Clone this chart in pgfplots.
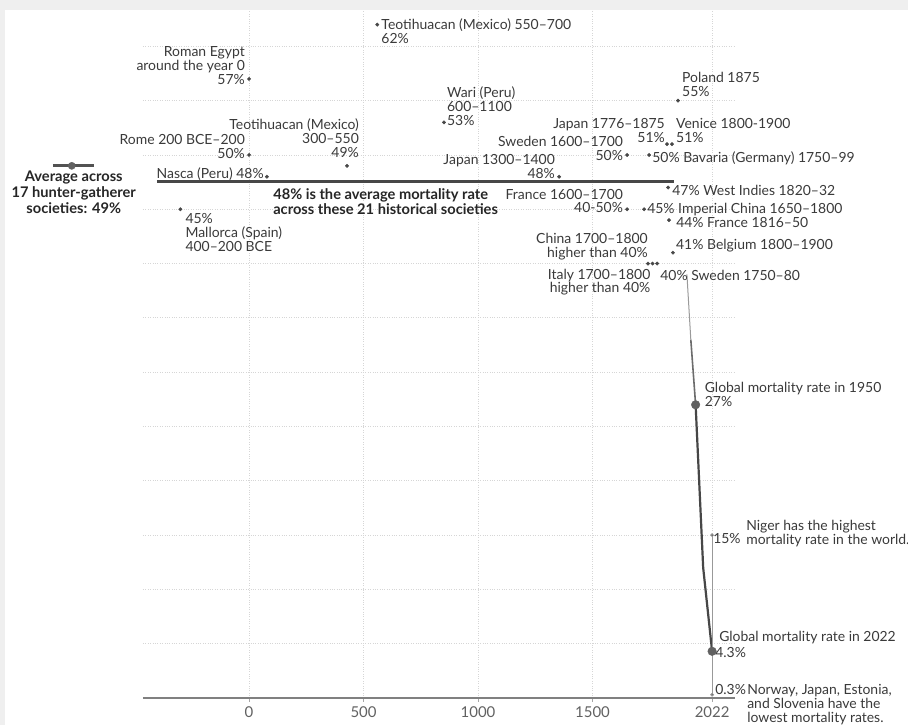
\documentclass[border=0pt]{standalone}
\usepackage{fontspec}
\setmainfont{Lato}
\usepackage{pgfplots}
\pgfplotsset{compat=1.18}
\definecolor{txt}{HTML}{3A3A3A}
\definecolor{dot}{HTML}{474747}
\definecolor{gridc}{HTML}{D6D6D6}
\definecolor{band}{HTML}{EFEFEF}
\tikzset{lab/.style={inner sep=0pt, font=\fontsize{14}{14}\selectfont, text=txt},
         blab/.style={inner sep=0pt, font=\fontsize{14.7}{16}\selectfont\bfseries, text=black!85}}
\begin{document}
\begin{tikzpicture}[x=1bp,y=1bp]
\fill[white] (-143,-27) rectangle (765,698);
\fill[band] (-143,688) rectangle (765,698);
\fill[band] (-143,-27) rectangle (-138,698);
\path[use as bounding box] (-143,-27) rectangle (765,698);
\begin{axis}[
  at={(0,0)}, anchor=south west, scale only axis,
  width=592bp, height=688bp,
  xmin=-463, xmax=2122, ymin=0, ymax=63.35,
  clip=false,
  axis x line*=bottom, axis y line*=left,
  y axis line style={draw=none},
  x axis line style={draw=black!50, line width=1.5bp},
  xtick={0,500,1000,1500,2022},
  xticklabels={0,500,1000,1500,2022},
  ytick={5,10,...,60},
  yticklabels={},
  ytick style={draw=none},
  xtick style={draw=black!35, line width=0.6bp},
  tick align=outside, major tick length=4bp,
  xmajorgrids, ymajorgrids,
  grid style={gridc, dotted, line width=0.9bp},
  xticklabel style={font=\fontsize{15}{16}\selectfont, text=black!62, yshift=-1bp},
  /pgf/number format/assume math mode=true,
]
% hunter-gatherer average
\addplot[line width=3bp, color=black!68] coordinates {(-857,49) (-678,49)};
\addplot[only marks, mark=*, mark size=3.6bp, color=black!62] coordinates {(-774,49)};
% average of 21 historical societies
\addplot[line width=3bp, color=black!72] coordinates {(-402,47.6) (1855,47.6)};
% global line
\addplot[draw=dot!55, line width=1bp] coordinates {(1912,39) (1929,33)};
\addplot[draw=dot!80, line width=1.6bp] coordinates {(1929,33) (1950,27)};
\addplot[draw=dot, line width=2.2bp] coordinates {(1950,27) (1983,12) (2022,4.3)};
% country range 2022
\addplot[draw=black!40, line width=0.8bp, mark=*, mark size=1.4bp, mark options={fill=dot, draw=none}] coordinates {(2022,0.3) (2022,15)};
% historical societies
\addplot[only marks, mark=*, mark size=1.7bp, color=dot] coordinates {
(560,62) (0,57) (0,50) (428,49) (78,48) (-300,45) (851,53)
(1354,48) (1651,50) (1825,51) (1847,51) (1873,55) (1747,50)
(1830,47) (1651,45) (1725,45) (1834,44)
(1742,40) (1762,40) (1782,40) (1851,41)};
% global big markers
\addplot[only marks, mark=*, mark size=4.3bp, color=black!62] coordinates {(1950,27) (2022,4.3)};

% labels
\node[lab, anchor=north west, align=left, xshift=4bp, yshift=6bp] at (axis cs:560,62) {Teotihuacan (Mexico) 550--700\\62\%};
\node[lab, anchor=south east, align=right, xshift=-4bp, yshift=-6bp] at (axis cs:0,57) {Roman Egypt\\around the year 0\\57\%};
\node[lab, anchor=south east, align=right, xshift=-4bp, yshift=-4bp] at (axis cs:0,50) {Rome 200 BCE--200\\50\%};
\node[lab, anchor=south east, align=right, xshift=12bp, yshift=8bp] at (axis cs:428,49) {Teotihuacan (Mexico)\\300--550\\49\%};
\node[lab, anchor=east, xshift=-3bp, yshift=3bp] at (axis cs:78,48) {Nasca (Peru) 48\%};
\node[lab, anchor=north west, align=left, xshift=5bp, yshift=-4bp] at (axis cs:-300,45) {45\%\\Mallorca (Spain)\\400--200 BCE};
\node[blab, anchor=north west, align=left, yshift=1bp] at (axis cs:105,46.87) {48\% is the average mortality rate\\across these 21 historical societies};
\node[blab, anchor=north, align=center, xshift=2bp, yshift=-5bp] at (axis cs:-774,49) {Average across\\17 hunter-gatherer\\societies: 49\%};
\node[lab, anchor=south west, align=left, xshift=3bp, yshift=-3bp] at (axis cs:851,53) {Wari (Peru)\\600--1100\\53\%};
\node[lab, anchor=south east, align=right, xshift=-4bp, yshift=-2bp] at (axis cs:1354,48) {Japan 1300--1400\\48\%};
\node[lab, anchor=south east, align=right, xshift=-4bp, yshift=-6bp] at (axis cs:1651,50) {Sweden 1600--1700\\50\%};
\node[lab, anchor=south east, align=right, xshift=-2bp, yshift=1bp] at (axis cs:1825,51) {Japan 1776--1875\\51\%};
\node[lab, anchor=south west, align=left, xshift=4bp, yshift=1bp] at (axis cs:1847,51) {Venice 1800-1900\\51\%};
\node[lab, anchor=south west, align=left, xshift=4bp, yshift=4bp] at (axis cs:1873,55) {Poland 1875\\55\%};
\node[lab, anchor=west, xshift=3bp, yshift=-3bp] at (axis cs:1747,50) {50\% Bavaria (Germany) 1750--99};
\node[lab, anchor=west, xshift=4bp, yshift=-3bp] at (axis cs:1830,47) {47\% West Indies 1820--32};
\node[lab, anchor=south east, align=right, xshift=-4bp, yshift=-4bp] at (axis cs:1651,45) {France 1600--1700\\40-50\%};
\node[lab, anchor=west, xshift=3bp, yshift=0bp] at (axis cs:1725,45) {45\% Imperial China 1650--1800};
\node[lab, anchor=west, xshift=7bp, yshift=-2bp] at (axis cs:1834,44) {44\% France 1816--50};
\node[lab, anchor=south east, align=right, xshift=0bp, yshift=3bp] at (axis cs:1742,40) {China 1700--1800\\higher than 40\%};
\node[lab, anchor=north east, align=right, xshift=-2bp, yshift=-5bp] at (axis cs:1762,40) {Italy 1700--1800\\higher than 40\%};
\node[lab, anchor=north west, xshift=3bp, yshift=-6bp] at (axis cs:1782,40) {40\% Sweden 1750--80};
\node[lab, anchor=west, xshift=3bp, yshift=7bp] at (axis cs:1851,41) {41\% Belgium 1800--1900};
\node[lab, anchor=south west, align=left, xshift=9bp, yshift=-2bp] at (axis cs:1950,27) {Global mortality rate in 1950\\27\%};
\node[lab, anchor=west, xshift=1bp, yshift=-3bp] at (axis cs:2022,15) {15\%};
\node[lab, anchor=west, align=left, xshift=34bp, yshift=2bp] at (axis cs:2022,15) {Niger has the highest\\mortality rate in the world.};
\node[lab, anchor=west, xshift=3bp, yshift=-1bp] at (axis cs:2022,4.3) {4.3\%};
\node[lab, anchor=west, xshift=7bp, yshift=14bp] at (axis cs:2022,4.3) {Global mortality rate in 2022};
\node[lab, anchor=west, xshift=3bp, yshift=5bp] at (axis cs:2022,0.3) {0.3\%};
\node[lab, anchor=north west, align=left, xshift=35bp, yshift=11bp] at (axis cs:2022,0.3) {Norway, Japan, Estonia,\\and Slovenia have the\\lowest mortality rates.};
\end{axis}
\end{tikzpicture}
\end{document}
